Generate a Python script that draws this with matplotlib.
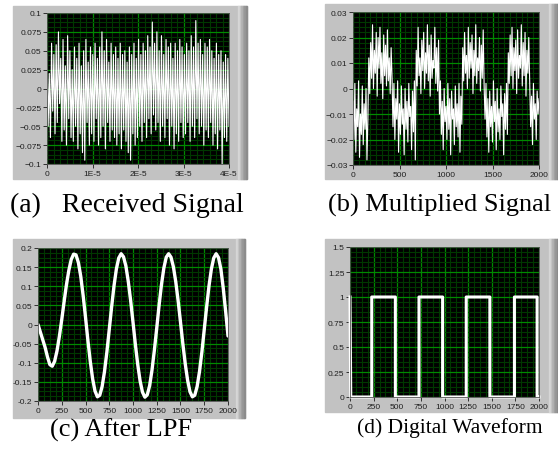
import numpy as np
import matplotlib
matplotlib.use('Agg')
from matplotlib import pyplot as plt
from matplotlib.patches import Rectangle
from matplotlib.ticker import FixedLocator, FixedFormatter, AutoMinorLocator

# ---- data ----
# (a) received signal, 0 .. 4E-5 s
recv_t_end = 4e-5
received = [
    0.045, -0.05, 0.02, -0.065, 0.06, -0.03, 0.045, -0.06, 0.058, -0.045,
    0.075, -0.02, 0.04, -0.07, 0.065, -0.055, 0.03, -0.075, 0.07, -0.04,
    0.05, -0.065, 0.025, -0.07, 0.055, -0.05, 0.04, -0.08, 0.06, -0.06,
    0.03, -0.085, 0.05, -0.095, 0.065, -0.045, 0.035, -0.075, 0.055, -0.06,
    0.045, -0.07, 0.06, -0.04, 0.04, -0.075, 0.055, -0.065, 0.075, -0.05,
    0.05, -0.08, 0.065, -0.045, 0.035, -0.07, 0.06, -0.055, 0.045, -0.065,
    0.055, -0.075, 0.04, -0.06, 0.06, -0.08, 0.045, -0.055, 0.05, -0.07,
    0.035, -0.085, 0.055, -0.095, 0.045, -0.06, 0.06, -0.075, 0.04, -0.065,
    0.065, -0.05, 0.045, -0.07, 0.06, -0.045, 0.05, -0.065, 0.07, -0.04,
    0.055, -0.06, 0.088, -0.035, 0.06, -0.055, 0.075, -0.045, 0.05, -0.07,
    0.07, -0.05, 0.045, -0.065, 0.065, -0.04, 0.055, -0.075, 0.06, -0.05,
    0.04, -0.08, 0.06, -0.06, 0.05, -0.07, 0.065, -0.045, 0.055, -0.065,
    0.045, -0.06, 0.06, -0.045, 0.05, -0.07, 0.07, -0.05, 0.055, -0.065,
    0.09, -0.04, 0.06, -0.06, 0.065, -0.05, 0.045, -0.075, 0.06, -0.055,
    0.055, -0.065, 0.065, -0.045, 0.05, -0.075, 0.04, -0.06, 0.06, -0.08,
    0.045, -0.055, 0.05, -0.1, 0.035, -0.065, 0.045, -0.07, 0.04, -0.05,
]

# (b) multiplied signal, one value every 10 samples
mult_step = 10
multiplied = [
    # 0 - 160
    -0.005, -0.02, 0.002, -0.025, -0.008, -0.015, 0.003, -0.027, -0.01,
    -0.018, 0.001, -0.022, -0.006, -0.016, 0.0, -0.028, -0.012,
    # 170 - 420
    0.012, -0.002, 0.018, 0.004, 0.025, 0.0, 0.015, 0.006, 0.022, -0.003,
    0.02, 0.008, 0.024, 0.002, 0.014, -0.004, 0.021, 0.005, 0.017, 0.001,
    0.023, 0.003, 0.012, -0.002, 0.016, 0.004,
    # 430 - 670
    -0.015, 0.002, -0.02, -0.004, -0.012, 0.003, -0.025, -0.006, -0.018,
    0.001, -0.014, -0.008, -0.026, 0.0, -0.016, -0.005, -0.021, 0.002,
    -0.011, -0.007, -0.024, -0.001, -0.017, 0.003, -0.028,
    # 680 - 920
    0.015, 0.001, 0.024, 0.005, 0.012, -0.002, 0.019, 0.007, 0.022, 0.0,
    0.014, 0.006, 0.025, 0.003, 0.017, -0.003, 0.021, 0.004, 0.011, 0.008,
    0.024, 0.002, 0.016, -0.001, 0.019,
    # 930 - 1170
    -0.01, 0.003, -0.018, -0.005, -0.024, 0.0, -0.013, -0.007, -0.02, 0.002,
    -0.016, -0.004, -0.026, -0.001, -0.012, -0.008, -0.022, 0.001, -0.015,
    -0.006, -0.019, 0.002, -0.025, -0.003, -0.014,
    # 1180 - 1410
    0.016, 0.003, 0.022, 0.006, 0.013, 0.0, 0.024, 0.004, 0.018, 0.008,
    0.021, -0.002, 0.015, 0.005, 0.025, 0.002, 0.012, 0.007, 0.02, -0.001,
    0.017, 0.004, 0.023, 0.001,
    # 1420 - 1660
    -0.012, 0.002, -0.019, -0.004, -0.025, -0.001, -0.015, -0.007, -0.021,
    0.003, -0.013, -0.005, -0.024, 0.0, -0.017, -0.008, -0.02, 0.001,
    -0.011, -0.006, -0.026, -0.002, -0.016, 0.002, -0.018,
    # 1670 - 1900
    0.014, 0.002, 0.021, 0.005, 0.024, 0.0, 0.016, 0.007, 0.019, -0.002,
    0.023, 0.004, 0.013, 0.008, 0.025, 0.001, 0.018, 0.005, 0.022, -0.003,
    0.015, 0.006, 0.02, 0.002,
    # 1910 - 2000
    -0.015, -0.003, -0.022, 0.002, -0.012, -0.006, -0.02, -0.001, -0.01,
    -0.004,
]

# (c) after LPF, one value every 25 samples
lpf_step = 25
after_lpf = [
    0.0, -0.02, -0.04, -0.06, -0.085, -0.105, -0.109, -0.096, -0.069, -0.031,
    0.013, 0.06, 0.105, 0.142, 0.17, 0.184, 0.182, 0.162, 0.126, 0.076,
    0.019, -0.041, -0.096, -0.142, -0.174, -0.189, -0.185, -0.162, -0.123, -0.072,
    -0.013, 0.046, 0.101, 0.145, 0.174, 0.185, 0.177, 0.153, 0.113, 0.063,
    0.006, -0.052, -0.105, -0.148, -0.177, -0.19, -0.184, -0.16, -0.119, -0.067,
    -0.009, 0.051, 0.105, 0.148, 0.176, 0.185, 0.176, 0.151, 0.112, 0.062,
    0.006, -0.051, -0.103, -0.146, -0.176, -0.189, -0.185, -0.162, -0.123, -0.072,
    -0.013, 0.046, 0.101, 0.145, 0.174, 0.185, 0.175, 0.145, 0.095, 0.035,
    -0.03,
]

# (d) digital waveform: level changes
digital_x = [0, 8, 230, 230, 480, 480, 730, 730, 980, 980, 1230, 1230,
             1480, 1480, 1740, 1740, 1980, 1980, 2000]
digital_y = [1, 0, 0, 1, 1, 0, 0, 1, 1, 0, 0, 1, 1, 0, 0, 1, 1, 0, 0]

ticks_a_y = [-0.1, -0.075, -0.05, -0.025, 0, 0.025, 0.05, 0.075, 0.1]
labels_a_y = ['\u22120.1', '\u22120.075', '\u22120.05', '\u22120.025', '0',
              '0.025', '0.05', '0.075', '0.1']
ticks_a_x = [0, 1e-5, 2e-5, 3e-5, 4e-5]
labels_a_x = ['0', '1E-5', '2E-5', '3E-5', '4E-5']

ticks_b_y = [-0.03, -0.02, -0.01, 0, 0.01, 0.02, 0.03]
labels_b_y = ['\u22120.03', '\u22120.02', '\u22120.01', '0', '0.01', '0.02', '0.03']
ticks_b_x = [0, 500, 1000, 1500, 2000]

ticks_c_y = [-0.2, -0.15, -0.1, -0.05, 0, 0.05, 0.1, 0.15, 0.2]
labels_c_y = ['-0.2', '-0.15', '-0.1', '-0.05', '0', '0.05', '0.1', '0.15', '0.2']
ticks_cd_x = [0, 250, 500, 750, 1000, 1250, 1500, 1750, 2000]

ticks_d_y = [0, 0.25, 0.5, 0.75, 1, 1.25, 1.5]
labels_d_y = ['0', '0.25', '0.5', '0.75', '1', '1.25', '1.5']

captions = ['(a)   Received Signal', '(b) Multiplied Signal',
            '(c) After LPF', '(d) Digital Waveform']

W, H = 558, 452
FRAME = '#c2c2c2'
MAJOR = '#008a00'
MINOR = '#003800'


def px_rect(l, t, r, b):
    return [l / W, 1 - b / H, (r - l) / W, (b - t) / H]


def frame(fig, l, t, r, b):
    fig.add_artist(Rectangle((l / W, 1 - b / H), (r - l) / W, (b - t) / H,
                             transform=fig.transFigure, color=FRAME, zorder=0))
    # darker strip on the right side, like the LabVIEW panel edge
    shades = ['#d6d6d6', '#c8c8c8', '#b4b4b4', '#a4a4a4', '#989898', '#8c8c8c']
    sw = 9.0 / len(shades)
    for i, c in enumerate(shades):
        x0 = r - 9 + i * sw
        fig.add_artist(Rectangle((x0 / W, 1 - b / H), sw / W, (b - t) / H,
                                 transform=fig.transFigure, color=c, zorder=0))


def style(ax, xt, xl, yt, yl, xminor, yminor, xlim, ylim):
    ax.set_facecolor('black')
    ax.set_xlim(*xlim)
    ax.set_ylim(*ylim)
    ax.xaxis.set_major_locator(FixedLocator(xt))
    ax.xaxis.set_major_formatter(FixedFormatter(xl))
    ax.yaxis.set_major_locator(FixedLocator(yt))
    ax.yaxis.set_major_formatter(FixedFormatter(yl))
    ax.xaxis.set_minor_locator(AutoMinorLocator(xminor))
    ax.yaxis.set_minor_locator(AutoMinorLocator(yminor))
    ax.grid(which='minor', color=MINOR, linewidth=0.8)
    ax.grid(which='major', color=MAJOR, linewidth=0.9)
    ax.set_axisbelow(True)
    ax.tick_params(which='major', direction='out', length=3, width=0.7,
                   color='#303030', labelsize=6, pad=1, labelcolor='#202020')
    ax.tick_params(which='minor', length=0)
    for lab in ax.get_xticklabels() + ax.get_yticklabels():
        lab.set_fontfamily('Liberation Sans')
    for s in ax.spines.values():
        s.set_color('#505050')
        s.set_linewidth(0.6)


fig = plt.figure(figsize=(W / 100, H / 100), dpi=100)
fig.patch.set_facecolor('white')

frame(fig, 13, 7, 247, 180)
frame(fig, 325, 5, 558, 180)
frame(fig, 13, 240, 245, 419)
frame(fig, 325, 240, 558, 413)

ax_a = fig.add_axes(px_rect(47, 14, 229, 165))
ax_b = fig.add_axes(px_rect(353, 13, 539, 166))
ax_c = fig.add_axes(px_rect(38, 249, 228, 402))
ax_d = fig.add_axes(px_rect(350, 248, 539, 398))

t_a = np.arange(len(received)) * recv_t_end / (len(received) - 1)
ax_a.plot(t_a, received, color='white', linewidth=0.8)
style(ax_a, ticks_a_x, labels_a_x, ticks_a_y, labels_a_y, 7, 4,
      (0, 4e-5), (-0.1, 0.1))

x_b = np.arange(len(multiplied)) * mult_step
ax_b.plot(x_b, multiplied, color='white', linewidth=0.8)
style(ax_b, ticks_b_x, [str(v) for v in ticks_b_x], ticks_b_y, labels_b_y,
      8, 5, (0, 2000), (-0.03, 0.03))

x_c = np.arange(len(after_lpf)) * lpf_step
ax_c.plot(x_c, after_lpf, color='white', linewidth=2.4, solid_capstyle='round')
style(ax_c, ticks_cd_x, [str(v) for v in ticks_cd_x], ticks_c_y, labels_c_y,
      4, 4, (0, 2000), (-0.2, 0.2))

ax_d.plot(digital_x, digital_y, color='white', linewidth=2.2, clip_on=False)
style(ax_d, ticks_cd_x, [str(v) for v in ticks_cd_x], ticks_d_y, labels_d_y,
      4, 5, (0, 2000), (0, 1.5))

cap_font = dict(fontfamily='Liberation Serif', color='black',
                ha='left', va='center')
fig.text(10 / W, 1 - 205 / H, captions[0], fontsize=20, **cap_font)
fig.text(328 / W, 1 - 205 / H, captions[1], fontsize=19, **cap_font)
fig.text(50 / W, 1 - 430 / H, captions[2], fontsize=19, **cap_font)
fig.text(357 / W, 1 - 428 / H, captions[3], fontsize=15.5, **cap_font)

fig.savefig('out.png', dpi=100)
